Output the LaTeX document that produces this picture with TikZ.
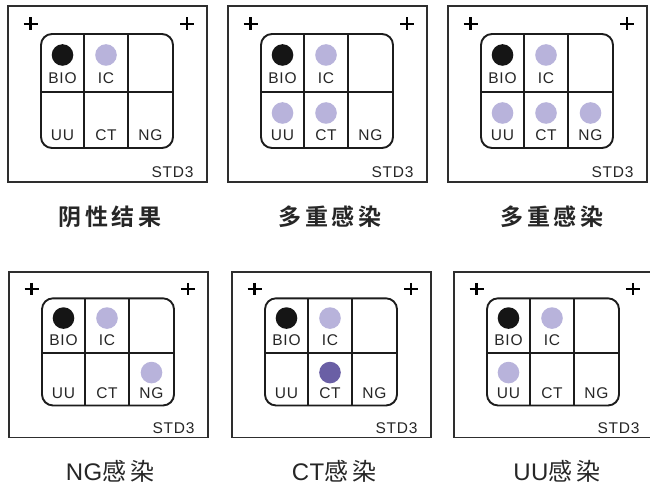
\documentclass[tikz,border=0pt]{standalone}
\usepackage{fontspec}
\setmainfont{Liberation Sans}
\newfontfamily\cjk{Noto Sans CJK SC}[BoldFont={Noto Sans CJK SC Bold}]
\newfontfamily\lab{Liberation Sans}[LetterSpace=5]
\newfontfamily\capfont{Liberation Sans}[LetterSpace=2]

\definecolor{framegray}{HTML}{2E2E2E}
\definecolor{gridink}{HTML}{1C1C1C}
\definecolor{dotblack}{HTML}{151515}
\definecolor{lilac}{HTML}{B8B3DB}
\definecolor{violet}{HTML}{6A5FA5}

\tikzset{
  panel/.style={draw=framegray, line width=1.6pt},
  crossmark/.style={draw=black, line width=2.3pt},
  wellgrid/.style={draw=gridink, line width=1.9pt},
  cell/.style={inner sep=0pt, font=\lab\fontsize{15.5}{15.5}\selectfont, text=black!85},
  dot/.style={circle, inner sep=0pt, minimum size=21.6pt, draw=none},
  capt/.style={inner sep=0pt, text=black!85},
}

% One test card: #1 name, #2/#3 top-left corner, #4 vertical scale,
% #5 extra spots as {cell/colour} pairs
\newcommand{\testcard}[5]{%
  \begin{scope}[shift={(#2,#3)}, yscale=#4]
    \draw[panel] (0,0) rectangle (199,176);
    \draw[crossmark] (15.5,18) -- (29.5,18) (22.5,11.5) -- (22.5,24.5);
    \draw[crossmark] (172,18) -- (186,18) (179,11.5) -- (179,24.5);
    \draw[wellgrid, rounded corners=11pt] (33,28) rectangle (165,142);
    \draw[wellgrid] (76,28) -- (76,142) (120,28) -- (120,142) (33,86) -- (165,86);
    \coordinate (#1-bio-c) at (54.5,49);
    \coordinate (#1-ic-c) at (98,49);
    \coordinate (#1-uu-c) at (54.5,107);
    \coordinate (#1-ct-c) at (98,107);
    \coordinate (#1-ng-c) at (142.5,107);
    \node[cell] (#1-bio) at (54.5,72) {BIO};
    \node[cell] (#1-ic) at (98,72) {IC};
    \node[cell] (#1-uu) at (54.5,129) {UU};
    \node[cell] (#1-ct) at (98,129) {CT};
    \node[cell] (#1-ng) at (142.5,129) {NG};
    \node[cell] (#1-std) at (164.5,166) {STD3};
    \node[dot, fill=dotblack] (#1-bio-dot) at (#1-bio-c) {};
    \node[dot, fill=lilac] (#1-ic-dot) at (#1-ic-c) {};
    \foreach \w/\c in {#5} {\node[dot, fill=\c] (#1-\w-dot) at (#1-\w-c) {};}
  \end{scope}%
}

\begin{document}
\begin{tikzpicture}[x=1pt, y=-1pt]
  \useasboundingbox (0,0) rectangle (650,489);
  \fill[white] (0,0) rectangle (650,489);

  % top row
  \testcard{neg}{8}{6}{1}{}
  \testcard{multa}{228}{6}{1}{uu/lilac, ct/lilac}
  \testcard{multb}{448}{6}{1}{uu/lilac, ct/lilac, ng/lilac}
  % bottom row
  \testcard{ngpos}{9}{272}{0.94}{ng/lilac}
  \testcard{ctpos}{232}{272}{0.94}{ct/violet}
  \testcard{uupos}{454}{272}{0.94}{uu/lilac}

  % captions
  \node[capt, font=\cjk\bfseries\fontsize{23}{23}\selectfont] (cap-neg) at (110,217) {阴\,性\,结\,果};
  \node[capt, font=\cjk\bfseries\fontsize{23}{23}\selectfont] (cap-multa) at (330,217) {多\,重\,感\,染};
  \node[capt, font=\cjk\bfseries\fontsize{23}{23}\selectfont] (cap-multb) at (552,217) {多\,重\,感\,染};
  \node[capt, font=\fontsize{24}{24}\selectfont] (cap-ng) at (110,471) {\capfont NG\cjk 感\,染};
  \node[capt, font=\fontsize{24}{24}\selectfont] (cap-ct) at (334,471) {\capfont CT\cjk 感\,染};
  \node[capt, font=\fontsize{24}{24}\selectfont] (cap-uu) at (557,471) {\capfont UU\cjk 感\,染};
\end{tikzpicture}
\end{document}
